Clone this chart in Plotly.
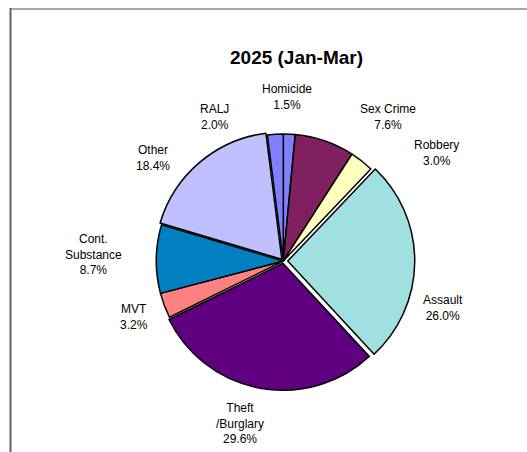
import plotly.graph_objects as go

W, H = 527, 452

categories = ["Homicide", "Sex Crime", "Robbery", "Assault", "Theft<br>/Burglary",
              "MVT", "Cont.<br>Substance", "Other", "RALJ"]
values = [1.5, 7.6, 3.0, 26.0, 29.6, 3.2, 8.7, 18.4, 2.0]
colors = ["#8080FF", "#802060", "#FFFFC0", "#A0E0E0", "#600080",
          "#FF8080", "#0080C0", "#C0C0FF", "#8080FF"]
pulls = [0, 0, 0, 0.035, 0.018, 0, 0, 0.018, 0]

# label centres in pixels (layout, not data)
label_px = [(287, 97), (388, 117), (436, 153), (443, 308), (240, 423),
            (134, 317), (93, 254), (153, 158), (214, 117)]

cx, cy, r = 283.3, 261.0, 127.0
R = r * (1 + max(pulls))

fig = go.Figure(go.Pie(
    labels=categories,
    values=values,
    sort=False,
    direction="clockwise",
    rotation=0,
    pull=pulls,
    textinfo="none",
    marker=dict(colors=colors, line=dict(color="black", width=1.5)),
    domain=dict(x=[(cx - R) / W, (cx + R) / W],
                y=[(H - cy - R) / H, (H - cy + R) / H]),
    showlegend=False,
))

annotations = []
for name, v, (px, py) in zip(categories, values, label_px):
    annotations.append(dict(
        x=px / W, y=1 - py / H, xref="paper", yref="paper",
        text=f"{name}<br>{v:.1f}%", showarrow=False,
        xanchor="center", yanchor="middle", align="center",
        font=dict(family="Liberation Sans, Arial, sans-serif", size=12, color="#000000"),
    ))
annotations.append(dict(
    x=296 / W, y=1 - 58 / H, xref="paper", yref="paper",
    text="<b>2025 (Jan-Mar)</b>", showarrow=False,
    xanchor="center", yanchor="middle",
    font=dict(family="Liberation Sans, Arial, sans-serif", size=19, color="#000000"),
))

shapes = [
    dict(type="line", xref="paper", yref="paper", x0=10 / W, x1=1, y0=1 - 9 / H, y1=1 - 9 / H,
         line=dict(color="#A8A8A8", width=2)),
    dict(type="line", xref="paper", yref="paper", x0=10.5 / W, x1=10.5 / W, y0=0, y1=1 - 8 / H,
         line=dict(color="#606060", width=2)),
]

fig.update_layout(
    width=W, height=H,
    margin=dict(l=0, r=0, t=0, b=0),
    paper_bgcolor="white", plot_bgcolor="white",
    annotations=annotations, shapes=shapes,
)

fig.write_html(
    "out.html",
    config={"displayModeBar": False},
    post_script="document.body.style.margin='0';document.body.style.overflow='hidden';",
)
